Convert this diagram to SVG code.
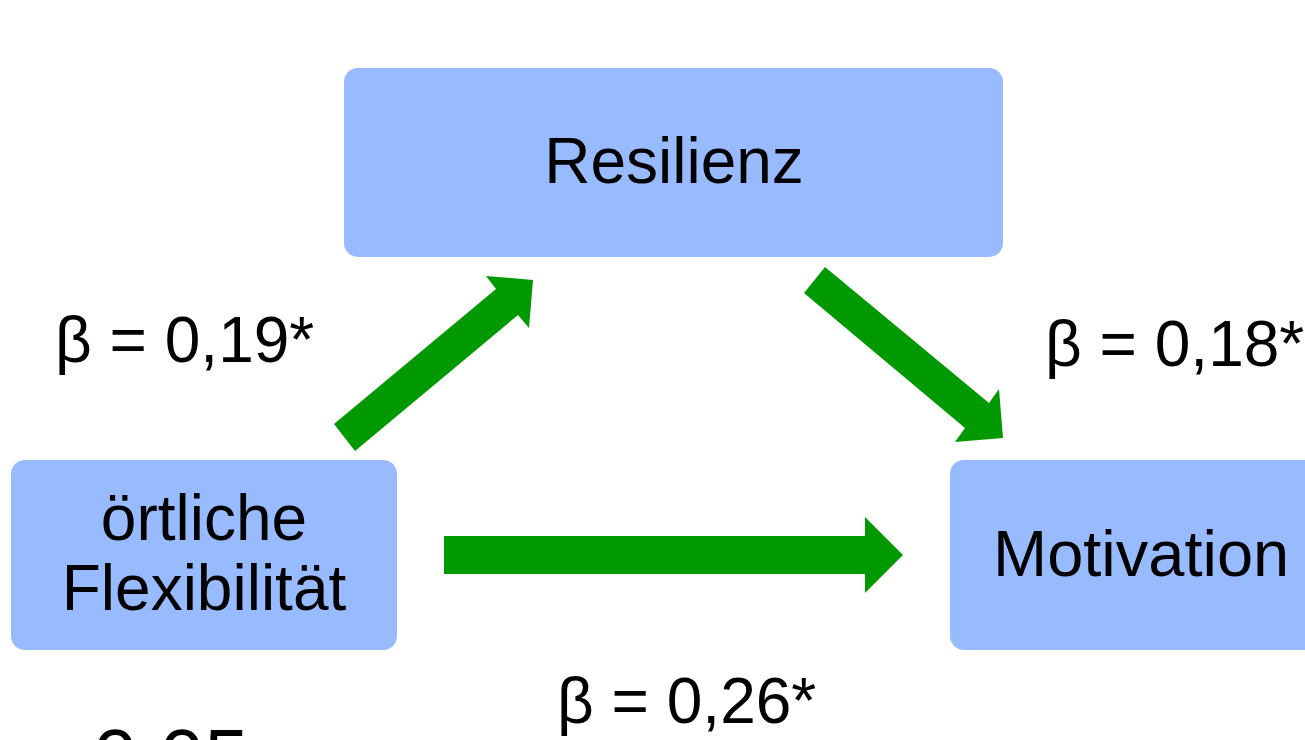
<svg xmlns="http://www.w3.org/2000/svg" width="1305" height="740" viewBox="0 0 1305 740">
  <style>
    .box { fill: #98baff; }
    .lbl { font-family: "Liberation Sans", Arial, sans-serif; font-size: 64px; fill: #000; }
    .arrow { fill: #009900; }
  </style>
  <rect width="1305" height="740" fill="#fff"/>

  <g id="resilienz">
    <rect class="box" x="344" y="68" width="659" height="189" rx="14"/>
    <text class="lbl" x="674" y="183" text-anchor="middle">Resilienz</text>
  </g>

  <g id="flexibilitaet">
    <rect class="box" x="11" y="460" width="386" height="190" rx="14"/>
    <text class="lbl" x="204" y="540" text-anchor="middle">örtliche</text>
    <text class="lbl" x="204" y="610" text-anchor="middle">Flexibilität</text>
  </g>

  <g id="motivation">
    <rect class="box" x="950" y="460" width="380" height="190" rx="14"/>
    <text class="lbl" x="993" y="576" style="font-size:65px">Motivation</text>
  </g>

  <g id="connectors">
    <polygon class="arrow" points="334,424 496,289 486,276 533,280 529,328 518,315 355,451"/>
    <polygon class="arrow" points="825,267 989,403 999,389 1003,438 955,442 965,428 804,293"/>
    <polygon class="arrow" points="444,536 865,536 865,517 903,555 865,593 865,574 444,574"/>
  </g>

  <g id="labels">
    <text class="lbl" x="55" y="362">β = 0,19*</text>
    <text class="lbl" x="1045" y="366">β = 0,18*</text>
    <text class="lbl" x="557" y="723">β = 0,26*</text>
    <text class="lbl" x="93" y="785" style="font-size:80px">0,05</text>
  </g>
</svg>
